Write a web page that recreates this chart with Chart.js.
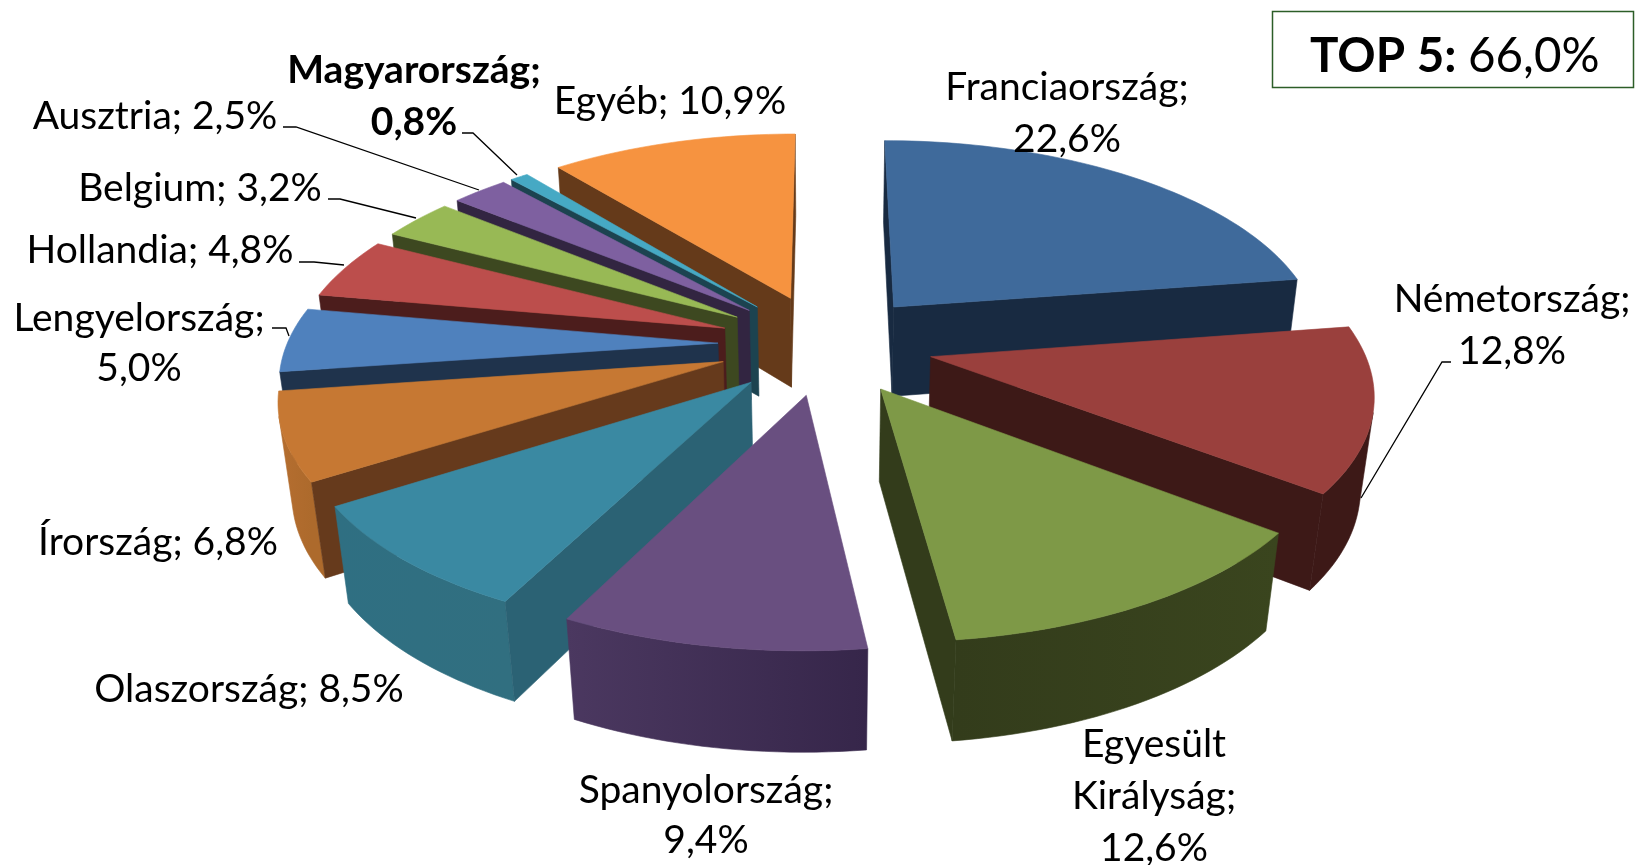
<!DOCTYPE html>
<html lang="hu">
<head>
<meta charset="utf-8">
<title>TOP 5: 66,0%</title>
<script src="https://cdn.jsdelivr.net/npm/chart.js@4/dist/chart.umd.min.js"></script>
<style>
html,body{margin:0;padding:0;background:#fff;overflow:hidden}
#wrap{position:relative;width:1635px;height:865px}
</style>
</head>
<body>
<div id="wrap"><canvas id="c" width="1635" height="865"></canvas></div>
<script>
// ---- data ----
const categories = ['Franciaország','Németország','Egyesült Királyság','Spanyolország','Olaszország','Írország','Lengyelország','Hollandia','Belgium','Ausztria','Magyarország','Egyéb'];
const shares = [22.6,12.8,12.6,9.4,8.5,6.8,5.0,4.8,3.2,2.5,0.8,10.9];
const summaryLabel = 'TOP 5:';
const summaryValue = '66,0%';

// ---- styles ----
const topColors = ['#3f6a9b','#9a403d','#7e9947','#694f80','#3a89a2','#c67833','#4f81bd','#bc4e4c','#98b955','#7e60a0','#46a9c4','#f69340'];
const cutColors = ['#182a41','#3d1917','#333c1b','#463459','#2b6274','#663a1c','#1f334c','#4c1d1c','#3d4820','#322541','#1c4350','#653a1a'];
const rimLeft   = ['#1d314b','#3d1917','#333c1b','#4b3860','#2f6f82','#b56e30','#2a4a70','#7a2f2e','#5a7030','#4c3a62','#2a6a7c','#c87a35'];
const rimRight  = ['#182a41','#3d1917','#3a451e','#36264a','#316f80','#ad6a2c','#2a4a70','#7a2f2e','#5a7030','#4c3a62','#2a6a7c','#c87a35'];

// ---- layout of the texts (line breaks and anchors) ----
const FONT = 'Lato, Carlito, sans-serif';
const labelLayout = [
  {lines:[0,1], x:1067, y:[87.5,139.5]},
  {lines:[0,1], x:1512, y:[299.5,351.5]},
  {lines:[2,1], x:1154, y:[744.5,796.5,848.5], split:true},
  {lines:[0,1], x:706,  y:[790.5,840.5]},
  {x:249, y:[689.5]},
  {x:158, y:[542.5]},
  {lines:[0,1], x:139, y:[318.5,368.5]},
  {x:160, y:[250.5]},
  {x:200, y:[188.5]},
  {x:155, y:[116.5]},
  {lines:[0,1], x:414, y:[70.5,122.5], bold:true},
  {x:670, y:[101.5]}
];
const leaders = [
  [[1451,362],[1442,362],[1361,498]],
  [[272,328],[286,328],[289,336]],
  [[299,262],[314,262],[344,265]],
  [[328,199],[340,199],[416,218]],
  [[283,127],[296,127],[479,190]],
  [[462,133],[473,133],[517,175]]
];
const view = {cx:825.5, cy:344, Rx:431, Ry:201, depth:93, k:0.1475, kx:0.155, m:0.025};

function project(X, Y, Z){
  const wy = 1 - view.k*Y + view.m*Z;
  const wx = 1 - view.kx*Y + view.m*Z;
  return [view.cx + view.Rx*X/wx, view.cy + (view.Ry*Y + view.depth*Z)/wy];
}
function polyArea(p){
  let s = 0;
  for(let i=0;i<p.length;i++){const a=p[i],b=p[(i+1)%p.length];s+=a[0]*b[1]-b[0]*a[1];}
  return s/2;
}
function fillPoly(ctx,p,fill){
  ctx.beginPath();
  p.forEach((q,i)=>i?ctx.lineTo(q[0],q[1]):ctx.moveTo(q[0],q[1]));
  ctx.closePath();
  ctx.fillStyle=fill; ctx.fill();
  ctx.strokeStyle=fill; ctx.lineWidth=0.6; ctx.stroke();
}

const pie3d = {
  id:'pie3d',
  beforeDatasetsDraw(chart){
    const ctx = chart.ctx;
    const arcs = chart.getDatasetMeta(0).data;
    const order = arcs.map((a,i)=>i).sort((i,j)=>{
      const mi=(arcs[i].startAngle+arcs[i].endAngle)/2, mj=(arcs[j].startAngle+arcs[j].endAngle)/2;
      return Math.sin(mi)-Math.sin(mj);
    });
    for(const i of order){
      const a = arcs[i];
      const mid = (a.startAngle+a.endAngle)/2;
      const e = (a.options.offset/4)/a.outerRadius;
      const ax = e*Math.cos(mid), ay = e*Math.sin(mid);
      const n = Math.max(6,Math.ceil((a.endAngle-a.startAngle)*40));
      const rimPlane = [];
      for(let s=0;s<=n;s++){
        const t=a.startAngle+(a.endAngle-a.startAngle)*s/n;
        rimPlane.push([ax+Math.cos(t),ay+Math.sin(t)]);
      }
      const top = rimPlane.map(p=>project(p[0],p[1],0));
      const bot = rimPlane.map(p=>project(p[0],p[1],1));
      const apexT = project(ax,ay,0), apexB = project(ax,ay,1);
      // outer wall: contiguous runs of the segments that face the viewer
      const xs = top.map(p=>p[0]);
      const g = ctx.createLinearGradient(Math.min(...xs),0,Math.max(...xs),0);
      g.addColorStop(0,rimLeft[i]); g.addColorStop(1,rimRight[i]);
      let runStart=-1;
      for(let s=0;s<=n;s++){
        const vis = s<n && polyArea([top[s],top[s+1],bot[s+1],bot[s]])<0;
        if(vis && runStart<0) runStart=s;
        if(!vis && runStart>=0){
          fillPoly(ctx,[...top.slice(runStart,s+1),...bot.slice(runStart,s+1).reverse()],g);
          runStart=-1;
        }
      }
      // cut walls
      const qs=[apexT,top[0],bot[0],apexB];
      if(polyArea(qs)<0) fillPoly(ctx,qs,cutColors[i]);
      const qe=[apexT,top[n],bot[n],apexB];
      if(polyArea(qe)>0) fillPoly(ctx,qe,cutColors[i]);
      // top face
      fillPoly(ctx,[apexT,...top],a.options.backgroundColor);
    }
    return false;
  },
  afterDraw(chart){
    const ctx = chart.ctx;
    ctx.save();
    ctx.strokeStyle='#000'; ctx.lineWidth=1.3;
    leaders.forEach(l=>{
      ctx.beginPath();
      l.forEach((p,i)=>i?ctx.lineTo(p[0],p[1]):ctx.moveTo(p[0],p[1]));
      ctx.stroke();
    });
    ctx.fillStyle='#000'; ctx.textAlign='center'; ctx.textBaseline='middle';
    categories.forEach((cat,i)=>{
      const L = labelLayout[i];
      const val = shares[i].toFixed(1).replace('.',',')+'%';
      let rows;
      if(L.split){ const parts = cat.split(' '); rows=[parts[0],parts[1]+';',val]; }
      else if(L.lines){ rows=[cat+';',val]; }
      else rows=[cat+'; '+val];
      ctx.font=(L.bold?'bold ':'')+'39px '+FONT;
      rows.forEach((r,k)=>ctx.fillText(r,L.x,L.y[k]));
    });
    // summary box
    ctx.strokeStyle='#2c5e28'; ctx.lineWidth=1.5;
    ctx.strokeRect(1272.5,11.5,361,76);
    ctx.textAlign='left'; ctx.textBaseline='alphabetic';
    ctx.font='bold 47.5px '+FONT;
    ctx.fillText(summaryLabel,1310,72);
    const w=ctx.measureText(summaryLabel+' ').width;
    ctx.font='47.5px '+FONT;
    ctx.fillText(summaryValue,1310+w,72);
    ctx.restore();
  }
};

new Chart(document.getElementById('c'),{
  type:'pie',
  data:{labels:categories,datasets:[{data:shares,backgroundColor:topColors,borderWidth:0,offset:288}]},
  options:{
    responsive:false,animation:false,
    layout:{padding:0},
    plugins:{legend:{display:false},tooltip:{enabled:false},title:{display:false}}
  },
  plugins:[pie3d]
});
</script>
</body>
</html>
